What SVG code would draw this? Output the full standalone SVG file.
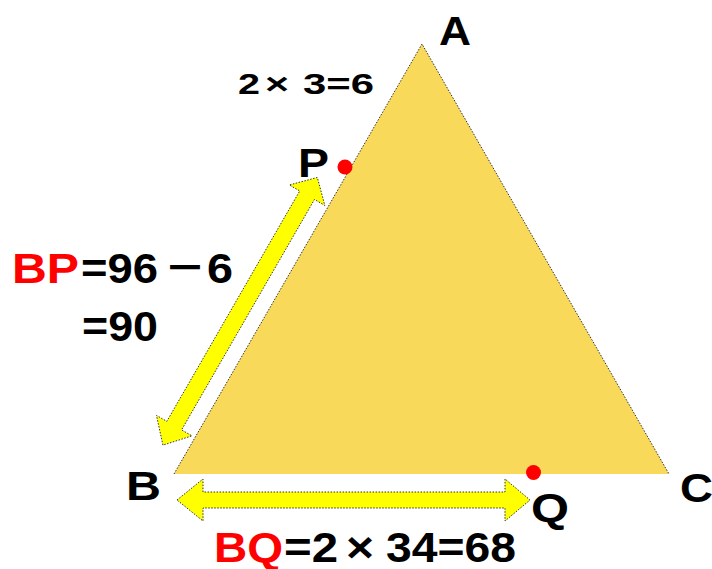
<svg xmlns="http://www.w3.org/2000/svg" width="712" height="569" viewBox="0 0 712 569">
<style>
text{font-family:"Liberation Sans","Noto Sans CJK JP",sans-serif;font-weight:bold;fill:#000}
.lbl{font-size:41px}
.big{font-size:42px}
.small{font-size:29px}
.red{fill:#FF0000}
.arrow{fill:#FFFF00;stroke:#333;stroke-width:1;stroke-dasharray:1.5 1.5}
.edge{fill:none;stroke:#333;stroke-width:1;stroke-dasharray:1.5 1.5}
.dot{fill:#FF0000}
</style>
<rect width="712" height="569" fill="#FFFFFF"/>
<g id="triangle">
<polygon points="174,474 422,44 669,474" fill="#F8D95A"/>
<polyline class="edge" points="174,474 422,44 669,474"/>
</g>
<g id="connectors">
<polygon class="arrow" points="162.95,445.12 156.44,415.39 166.83,421.38 299.73,190.97 289.33,184.98 317.33,177.46 324.85,205.46 314.45,199.47 181.56,429.88 191.95,435.87"/>
<polygon class="arrow" points="177,500 203,479 203,492 505,492 505,479 530,500 505,521 505,508 203,508 203,521"/>
</g>
<g id="pointP"><circle class="dot" cx="345" cy="167" r="7.5"/></g>
<g id="pointQ"><circle class="dot" cx="533.5" cy="472.5" r="7.5"/></g>
<g id="labelA"><text class="lbl" x="439" y="45" textLength="32" lengthAdjust="spacingAndGlyphs">A</text></g>
<g id="labelP"><text class="lbl" x="298" y="177" textLength="31" lengthAdjust="spacingAndGlyphs">P</text></g>
<g id="labelB"><text class="lbl" x="126" y="500" textLength="35" lengthAdjust="spacingAndGlyphs">B</text></g>
<g id="labelC"><text class="lbl" x="680" y="502" textLength="33" lengthAdjust="spacingAndGlyphs">C</text></g>
<g id="labelQ"><text class="lbl" x="531" y="522" textLength="38" lengthAdjust="spacingAndGlyphs">Q</text></g>
<g id="eqAP">
<text class="small" x="238" y="94" textLength="22" lengthAdjust="spacingAndGlyphs">2</text>
<text class="small" x="265" y="94" textLength="24" lengthAdjust="spacingAndGlyphs">×</text>
<text class="small" x="303" y="94" textLength="71" lengthAdjust="spacingAndGlyphs">3=6</text>
</g>
<g id="eqBP">
<text class="big red" x="12" y="283" textLength="67" lengthAdjust="spacingAndGlyphs">BP</text>
<text class="big" x="81" y="283" textLength="77" lengthAdjust="spacingAndGlyphs">=96</text>
<text class="big" x="164" y="283" style="font-family:'Noto Sans CJK JP',sans-serif">－</text>
<text class="big" x="207" y="283" textLength="26" lengthAdjust="spacingAndGlyphs">6</text>
<text class="big" x="82" y="341" textLength="76" lengthAdjust="spacingAndGlyphs">=90</text>
</g>
<g id="eqBQ">
<text class="big red" x="214" y="562" textLength="69" lengthAdjust="spacingAndGlyphs">BQ</text>
<text class="big" x="284" y="562" textLength="54" lengthAdjust="spacingAndGlyphs">=2</text>
<text class="big" x="346" y="562" textLength="28" lengthAdjust="spacingAndGlyphs">×</text>
<text class="big" x="386" y="562" textLength="130" lengthAdjust="spacingAndGlyphs">34=68</text>
</g>
</svg>
